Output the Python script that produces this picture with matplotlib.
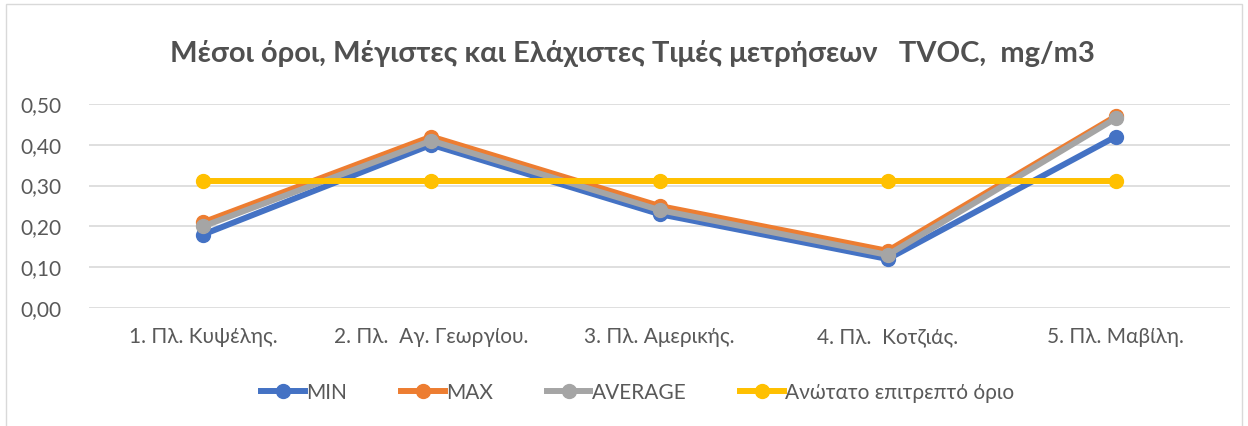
import matplotlib.pyplot as plt
from matplotlib.patches import Rectangle
from matplotlib.ticker import FuncFormatter

# Data
categories = ['1. Πλ. Κυψέλης.', '2. Πλ.  Αγ. Γεωργίου.', '3. Πλ. Αμερικής.',
              '4. Πλ.  Κοτζιάς.', '5. Πλ. Μαβίλη.']
min_vals = [0.18, 0.40, 0.23, 0.12, 0.42]
max_vals = [0.21, 0.42, 0.25, 0.14, 0.47]
avg_vals = [0.20, 0.41, 0.24, 0.13, 0.465]
limit_vals = [0.31, 0.31, 0.31, 0.31, 0.31]

plt.rcParams['font.family'] = ['Lato', 'DejaVu Sans']

fig = plt.figure(figsize=(12.48, 4.26), dpi=100)
ax = fig.add_axes([0.0713, 0.277, 0.9143, 0.479])

x = range(len(categories))
series = [
    (min_vals, 'MIN', '#4472C4'),
    (max_vals, 'MAX', '#ED7D31'),
    (avg_vals, 'AVERAGE', '#A5A5A5'),
    (limit_vals, 'Ανώτατο επιτρεπτό όριο', '#FFC000'),
]
for vals, name, col in series:
    ax.plot(x, vals, color=col, lw=4.3, marker='o', ms=10, label=name,
            solid_joinstyle='round')

ax.set_xlim(-0.5, len(categories) - 0.5)
ax.set_ylim(0, 0.5)
ax.set_yticks([0, 0.1, 0.2, 0.3, 0.4, 0.5])
ax.yaxis.set_major_formatter(FuncFormatter(lambda v, p: f'{v:.2f}'.replace('.', ',')))
ax.set_xticks(list(x))
ax.set_xticklabels(categories)
ax.grid(axis='y', color='#D9D9D9', lw=1.2)
ax.set_axisbelow(True)
for s in ax.spines.values():
    s.set_visible(False)
ax.tick_params(length=0, labelsize=15, colors='#595959')
ax.tick_params(axis='y', pad=20)
ax.tick_params(axis='x', pad=14)

fig.text(0.507, 0.875, 'Μέσοι όροι, Μέγιστες και Ελάχιστες Τιμές μετρήσεων   TVOC,  mg/m3',
         ha='center', va='center', fontsize=21, fontweight='bold', color='#505050')

leg = fig.legend(loc='center', bbox_to_anchor=(0.511, 0.078), ncol=4, frameon=False,
                 fontsize=15, handlelength=2.1, handletextpad=0.05, columnspacing=2.6)
for t in leg.get_texts():
    t.set_color('#595959')

fig.patches.append(Rectangle((0.005, -0.01), 0.99, 1.0, transform=fig.transFigure,
                             fill=False, edgecolor='#D9D9D9', lw=1))

fig.savefig('out.png', dpi=100)
